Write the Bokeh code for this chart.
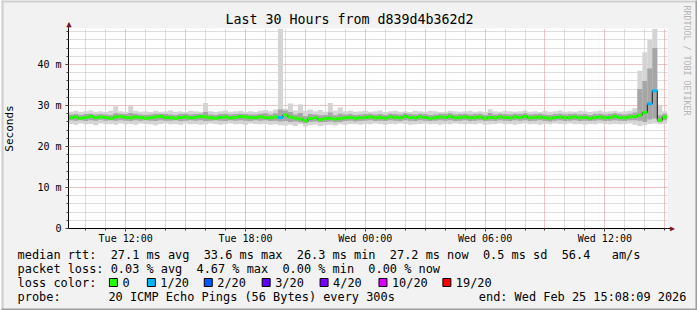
from bokeh.plotting import figure
from bokeh.models import Range1d, FixedTicker, Grid, ColumnDataSource
from bokeh.core.properties import value
from bokeh.embed import file_html
from bokeh.resources import INLINE

MONO = "DejaVu Sans Mono"

# ---------------- data ----------------
# time axis in hours, 0 = Tue 00:00; graph spans 30 h ending Wed 15:08:09
END_HOUR = 24 + 15 + 8 / 60 + 9 / 3600
SPAN_HOURS = 30
START_HOUR = END_HOUR - SPAN_HOURS
SAMPLE_START = 9.25
SAMPLE_STEP = 0.25
TICK_HOURS = [12, 18, 24, 30, 36]
TICK_LABELS = ["Tue 12:00", "Tue 18:00", "Wed 00:00", "Wed 06:00", "Wed 12:00"]
Y_TICKS = [0, 10, 20, 30, 40]
Y_LABELS = ["0", "10 m", "20 m", "30 m", "40 m"]
Y_MAX = 48.78

median = [
    27.0, 27.2, 26.9, 27.1, 27.3, 27.0, 27.2, 27.1, 26.9, 27.2,
    27.3, 27.1, 27.0, 27.2, 27.1, 26.9, 27.0, 27.2, 27.3, 27.1,
    27.0, 26.9, 27.1, 27.2, 27.0, 27.1, 27.3, 27.2, 27.0, 26.9,
    27.1, 27.2, 27.0, 27.1, 27.3, 27.2, 27.1, 27.0, 27.2, 27.1,
    27.0, 27.2, 27.1, 27.7, 27.2, 26.9, 26.7, 26.3, 26.8, 27.0,
    26.6, 26.8, 26.9, 26.7, 26.8, 27.0, 27.1, 26.9, 27.0, 27.1,
    27.2, 27.0, 27.1, 26.9, 27.2, 27.1, 27.0, 27.3, 27.1, 27.0,
    27.2, 27.1, 26.9, 27.0, 27.2, 27.1, 27.3, 27.0, 27.1, 27.2,
    27.0, 27.1, 27.2, 26.9, 27.1, 27.0, 27.2, 27.1, 27.0, 27.2,
    27.1, 27.3, 27.0, 27.1, 27.2, 27.0, 26.9, 27.1, 27.2, 27.0,
    27.1, 27.2, 27.0, 27.1, 26.9, 27.1, 27.2, 27.0, 27.1, 27.3,
    27.1, 27.0, 27.2, 27.3, 27.6, 28.3, 30.4, 33.6, 26.4, 27.2,
]
smoke_max = [
    28.5, 28.7, 28.4, 28.6, 28.8, 28.5, 28.6, 28.4, 28.7, 29.8,
    28.6, 28.5, 29.9, 28.7, 28.5, 28.6, 28.4, 28.7, 28.5, 28.6,
    28.8, 28.5, 28.6, 28.4, 28.7, 28.6, 28.5, 30.6, 28.6, 28.4,
    28.6, 28.8, 28.5, 28.6, 28.7, 28.5, 28.6, 28.4, 28.7, 28.9,
    28.6, 29.0, 48.7, 29.2, 30.5, 28.8, 30.3, 28.7, 29.0, 28.6,
    28.9, 28.5, 30.6, 28.7, 29.5, 28.6, 28.8, 28.5, 28.6, 28.7,
    28.5, 28.6, 28.8, 28.4, 28.6, 28.7, 28.5, 28.6, 28.4, 28.7,
    28.6, 28.5, 28.7, 28.6, 28.4, 28.5, 28.7, 28.6, 28.5, 28.6,
    28.7, 28.5, 28.6, 28.4, 29.1, 28.6, 28.5, 28.7, 28.6, 28.5,
    28.6, 28.8, 28.5, 28.6, 28.4, 28.7, 28.5, 28.6, 28.8, 28.5,
    28.6, 28.5, 28.7, 28.6, 28.4, 28.6, 28.8, 28.5, 28.6, 28.7,
    28.5, 28.6, 28.7, 29.3, 38.5, 43.0, 46.0, 48.7, 30.0, 28.6,
]
smoke_min = [
    25.5, 25.3, 25.6, 25.4, 25.5, 25.2, 25.6, 25.4, 25.5, 25.3,
    25.6, 25.4, 25.5, 25.3, 25.6, 25.5, 25.4, 25.2, 25.5, 25.6,
    25.4, 25.5, 25.3, 25.6, 25.4, 25.5, 25.3, 25.4, 25.6, 25.5,
    25.3, 25.5, 25.6, 25.4, 25.5, 25.3, 25.6, 25.5, 25.4, 25.5,
    25.3, 25.4, 25.2, 25.1, 25.3, 25.0, 25.4, 24.9, 25.2, 25.3,
    25.0, 25.2, 25.3, 25.1, 25.4, 25.3, 25.5, 25.4, 25.3, 25.5,
    25.4, 25.6, 25.5, 25.3, 25.5, 25.4, 25.6, 25.5, 25.3, 25.4,
    25.5, 25.6, 25.4, 25.5, 25.3, 25.5, 25.4, 25.6, 25.5, 25.4,
    25.5, 25.4, 25.6, 25.3, 25.4, 25.5, 25.6, 25.4, 25.5, 25.3,
    25.5, 25.6, 25.4, 25.5, 25.3, 25.5, 25.4, 25.6, 25.5, 25.4,
    25.6, 25.4, 25.5, 25.3, 25.5, 25.4, 25.6, 25.5, 25.4, 25.5,
    25.4, 25.5, 25.6, 25.3, 25.0, 25.2, 25.5, 25.6, 25.4, 25.5,
]
smoke_q_lo = [
    26.4, 26.3, 26.4, 26.2, 26.4, 26.3, 26.5, 26.3, 26.4, 26.3,
    26.4, 26.3, 26.2, 26.4, 26.3, 26.4, 26.3, 26.2, 26.4, 26.3,
    26.3, 26.4, 26.2, 26.3, 26.4, 26.3, 26.4, 26.2, 26.3, 26.4,
    26.3, 26.2, 26.4, 26.3, 26.4, 26.3, 26.2, 26.4, 26.3, 26.4,
    26.2, 26.3, 26.1, 26.2, 26.0, 26.1, 25.9, 25.7, 26.0, 26.1,
    25.9, 26.0, 26.1, 25.9, 26.0, 26.2, 26.3, 26.1, 26.2, 26.3,
    26.4, 26.2, 26.3, 26.2, 26.4, 26.3, 26.2, 26.4, 26.3, 26.2,
    26.4, 26.3, 26.2, 26.3, 26.4, 26.3, 26.4, 26.2, 26.3, 26.4,
    26.2, 26.3, 26.4, 26.2, 26.3, 26.2, 26.4, 26.3, 26.2, 26.4,
    26.3, 26.4, 26.2, 26.3, 26.4, 26.2, 26.1, 26.3, 26.4, 26.2,
    26.3, 26.4, 26.2, 26.3, 26.2, 26.3, 26.4, 26.2, 26.3, 26.4,
    26.3, 26.2, 26.4, 26.4, 26.3, 26.0, 26.6, 26.8, 25.9, 26.4,
]
smoke_q_hi = [
    27.8, 27.9, 27.7, 27.9, 28.0, 27.8, 27.9, 27.8, 27.7, 28.1,
    28.0, 27.9, 28.2, 28.0, 27.8, 27.7, 27.8, 28.0, 28.0, 27.9,
    27.8, 27.7, 27.9, 28.0, 27.8, 27.9, 28.0, 28.4, 27.8, 27.7,
    27.9, 28.0, 27.8, 27.9, 28.0, 27.9, 27.8, 27.8, 28.0, 28.1,
    27.8, 28.1, 29.0, 28.8, 28.4, 27.8, 28.2, 27.4, 27.9, 27.8,
    27.6, 27.7, 28.3, 27.6, 28.0, 27.8, 27.9, 27.7, 27.8, 27.9,
    28.0, 27.8, 27.9, 27.7, 28.0, 27.9, 27.8, 28.1, 27.9, 27.8,
    28.0, 27.9, 27.7, 27.8, 28.0, 27.9, 28.1, 27.8, 27.9, 28.0,
    27.8, 27.9, 28.0, 27.7, 28.2, 27.8, 28.0, 27.9, 27.8, 28.0,
    27.9, 28.1, 27.8, 27.9, 28.0, 27.8, 27.7, 27.9, 28.0, 27.8,
    27.9, 28.0, 27.8, 27.9, 27.7, 27.9, 28.0, 27.8, 27.9, 28.1,
    27.9, 27.8, 28.0, 28.3, 34.0, 36.0, 39.0, 44.0, 27.6, 28.0,
]
# lost pings (out of 20) at a few samples; all others 0
LOSS_EVENTS = {42: 1, 116: 1, 117: 1}

LOSS_LEVELS = ["0", "1/20", "2/20", "3/20", "4/20", "10/20", "19/20"]
LOSS_COLORS = ["#26ff00", "#00b8ff", "#0059ff", "#5e00ff", "#7e00ff", "#dd00ff", "#ff0000"]
LOSS_COUNT = [0, 1, 2, 3, 4, 10, 19]

MEDIAN_STATS = [27.1, 33.6, 26.3, 27.2, 0.5, 56.4]   # avg, max, min, now, sd, am/s
LOSS_STATS = [0.03, 4.67, 0.00, 0.00]                # avg, max, min, now
PROBE_TEXT = "20 ICMP Echo Pings (56 Bytes) every 300s"
END_TEXT = "end: Wed Feb 25 15:08:09 2026"
TITLE = "Last 30 Hours from d839d4b362d2"
CREDIT = "RRDTOOL / TOBI OETIKER"

# ---------------- build ----------------
n = len(median)
loss = [LOSS_EVENTS.get(i, 0) for i in range(n)]
t = [SAMPLE_START + SAMPLE_STEP * i for i in range(n)]
half = SAMPLE_STEP / 2


def loss_color(l):
    c = LOSS_COLORS[0]
    for cnt, col in zip(LOSS_COUNT, LOSS_COLORS):
        if l >= cnt:
            c = col
    return c


src = ColumnDataSource(dict(
    left=[x - half for x in t], right=[x + half for x in t], t=t,
    med=median, lo=smoke_min, hi=smoke_max, qlo=smoke_q_lo, qhi=smoke_q_hi,
    col=[loss_color(l) for l in loss],
))

W, H = 697, 310
FL, FT, FW, FH = 67, 28, 600, 200   # frame left/top/width/height in pixels
p = figure(width=W, height=H, output_backend="svg", toolbar_location=None,
           x_range=Range1d(START_HOUR, END_HOUR), y_range=Range1d(0, Y_MAX),
           min_border_left=FL, min_border_right=W - FL - FW, min_border_top=FT,
           min_border_bottom=H - FT - FH,
           background_fill_color="white", border_fill_color="#F2F2F2")
p.outline_line_color = None
p.xgrid.visible = False
p.ygrid.visible = False


def X(px):
    return START_HOUR + (px - FL) * SPAN_HOURS / FW


def Y(py):
    return (FT + FH - py) * Y_MAX / FH


hours = list(range(10, 40))
three = [h for h in hours if h % 3 == 0]
minor_x = [h for h in hours if h % 3 != 0]
ymaj = [10, 20, 30, 40]
ymin = [v for v in range(2, 49, 2) if v % 10 != 0]

for dim, ticks, col in ((0, minor_x, "#BDBDBD"), (1, ymin, "#BDBDBD"),
                        (0, three, "#E08888"), (1, ymaj, "#E08888")):
    p.add_layout(Grid(dimension=dim, ticker=FixedTicker(ticks=ticks),
                      grid_line_color=col, grid_line_dash="1 1", grid_line_width=1))

# smoke
p.quad(left="left", right="right", bottom="lo", top="hi", source=src,
       fill_color="#D4D4D4", line_color=None)
p.quad(left="left", right="right", bottom="qlo", top="qhi", source=src,
       fill_color="#A6A6A6", line_color=None)
# median
p.step(x="t", y="med", source=src, mode="center", line_color="#1A1A1A", line_width=1)
p.segment(x0="left", x1="right", y0="med", y1="med", source=src,
          line_color="col", line_width=3)

# axes
p.xaxis.ticker = FixedTicker(ticks=TICK_HOURS, minor_ticks=hours)
p.xaxis.major_label_overrides = dict(zip(TICK_HOURS, TICK_LABELS))
p.yaxis.ticker = FixedTicker(ticks=Y_TICKS, minor_ticks=list(range(0, 49, 2)))
p.yaxis.major_label_overrides = dict(zip(Y_TICKS, Y_LABELS))
for ax in (p.xaxis[0], p.yaxis[0]):
    ax.major_label_text_font = MONO
    ax.major_label_text_font_size = "10px"
    ax.major_label_text_color = "black"
    ax.axis_line_color = "black"
    ax.major_tick_line_color = "#444444"
    ax.minor_tick_line_color = "#444444"
    ax.major_tick_in = 0
    ax.major_tick_out = 3
    ax.minor_tick_in = 0
    ax.minor_tick_out = 2
p.xaxis.major_label_standoff = 1
p.yaxis.major_label_standoff = 4
p.yaxis.axis_label = "Seconds"
p.yaxis.axis_label_text_font = MONO
p.yaxis.axis_label_text_font_size = "11px"
p.yaxis.axis_label_text_font_style = "normal"
p.yaxis.axis_label_text_color = "black"
p.yaxis.axis_label_standoff = 18

NB = "\u00A0"


def txt(px, py, s, size="11.9px", align="left", color="black", angle=0.0):
    p.text(x=[X(px)], y=[Y(py)], text=[s.replace(" ", NB)], text_font=value(MONO),
           text_font_size=value(size), text_align=align, text_baseline="middle",
           text_color=color, angle=angle, level="overlay")


def box(l, r, tp, bt, fill, line=None):
    p.quad(left=[X(l)], right=[X(r)], top=[Y(tp)], bottom=[Y(bt)],
           fill_color=fill, line_color=line, line_width=1, level="overlay")


# axis line extensions and arrows
p.segment(x0=[X(FL)], x1=[X(FL)], y0=[Y(FT)], y1=[Y(FT - 5)], line_color="black", level="overlay")
p.segment(x0=[X(FL + FW)], x1=[X(FL + FW + 3)], y0=[0], y1=[0], line_color="black", level="overlay")
txt(FL + 0.5, FT - 5, "\u25B2", size="9px", align="center", color="#7F1414")
txt(FL + FW + 5, FT + FH, "\u25B6", size="8px", align="center", color="#7F1414")

# title and credit
txt(W / 2, 19, TITLE, size="13.3px", align="center")
txt(687, 5, CREDIT, size="8.3px", color="#B4B4B4", angle=-1.5708)

m = MEDIAN_STATS
l = LOSS_STATS
COL0 = 16
txt(COL0, 254, f"median rtt:  {m[0]:.1f} ms avg  {m[1]:.1f} ms max  {m[2]:.1f} ms min  "
               f"{m[3]:.1f} ms now  {m[4]:.1f} ms sd  {m[5]:.1f}   am/s")
txt(COL0, 268, f"packet loss: {l[0]:.2f} % avg  {l[1]:.2f} % max  {l[2]:.2f} % min  {l[3]:.2f} % now")
txt(COL0, 282, "loss color:")
txt(COL0, 296, "probe:")
txt(107, 296, PROBE_TEXT)
txt(478, 296, END_TEXT)

SQ_X = [108, 146, 203, 261, 319, 378, 442]
for sx, lab, col in zip(SQ_X, LOSS_LEVELS, LOSS_COLORS):
    box(sx, sx + 8, 278, 286, col, "black")
    txt(sx + 13, 282, lab)

# 3D frame border
box(0, W, 0, 2, "#CFCFCF")
box(0, 2, 0, H, "#CFCFCF")
box(0, W, H - 2, H, "#9E9E9E")
box(W - 2, W, 0, H, "#9E9E9E")

open("out.html", "w").write(file_html(p, INLINE))
